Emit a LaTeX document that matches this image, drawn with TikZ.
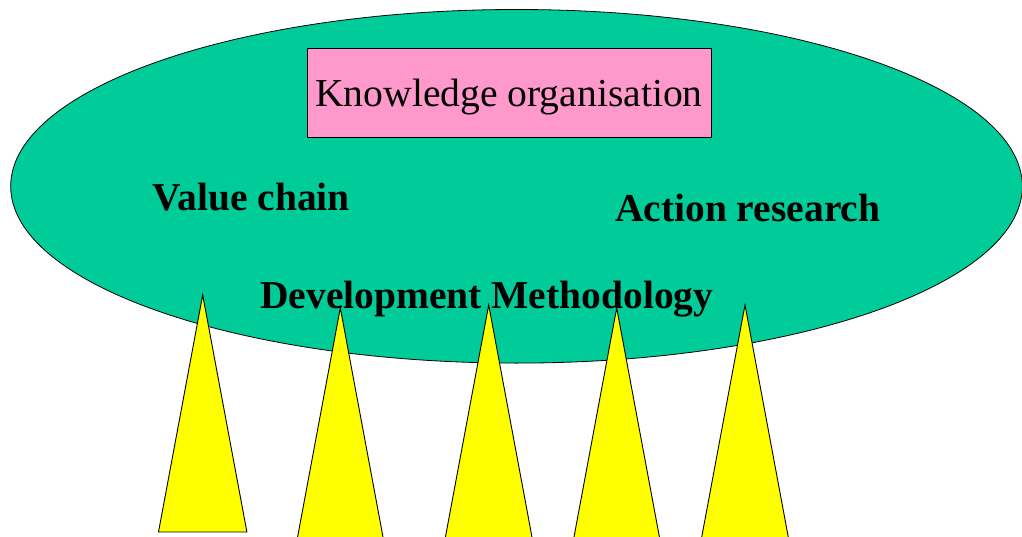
\documentclass[tikz,border=0pt]{standalone}
\usepackage{fontspec}
\setmainfont{Liberation Serif}
\usetikzlibrary{calc}
\definecolor{ellgreen}{HTML}{00CC99}
\definecolor{boxpink}{HTML}{FF99CC}
\definecolor{triyellow}{HTML}{FFFF00}
\begin{document}
\begin{tikzpicture}[x=1pt,y=-1pt,
  tri/.style={fill=triyellow,draw=black,line width=0.9pt,line join=miter},
  lbl/.style={inner sep=0pt,anchor=base west,font=\fontsize{39.5}{44}\selectfont\bfseries},
  kbox/.style={fill=boxpink,draw=black,line width=0.8pt,minimum width=404pt,minimum height=89pt,inner sep=0pt}]
\useasboundingbox (0,0) rectangle (1022,537);
\clip (0,0) rectangle (1022,537);
\draw[fill=ellgreen,line width=0.8pt] (516.5,186.3) ellipse [x radius=505.8, y radius=176.8];
\node[kbox] (ko) at (509,92.7) {};
\node[inner sep=0pt,anchor=base,font=\fontsize{39.6}{44}\selectfont] (kot) at (509,107) {Knowledge organisation};
\foreach \n/\ax/\ay in {1/202.7/295, 2/340.3/308, 3/488.7/305, 4/616.7/308, 5/745/305}{
  \coordinate (apex\n) at (\ax,\ay);
  \coordinate (bl\n) at ($(\ax,\ay)+(-44.2,237)$);
  \coordinate (br\n) at ($(\ax,\ay)+(44.2,237)$);
  \draw[tri] (apex\n) -- (bl\n) -- (br\n) -- cycle;
}
\node[lbl] (vc) at (152.5,210.7) {Value chain};
\node[lbl] (ar) at (615,221.7) {Action research};
\node[lbl] (dm) at (260,308.3) {Development Methodology};
\end{tikzpicture}
\end{document}
